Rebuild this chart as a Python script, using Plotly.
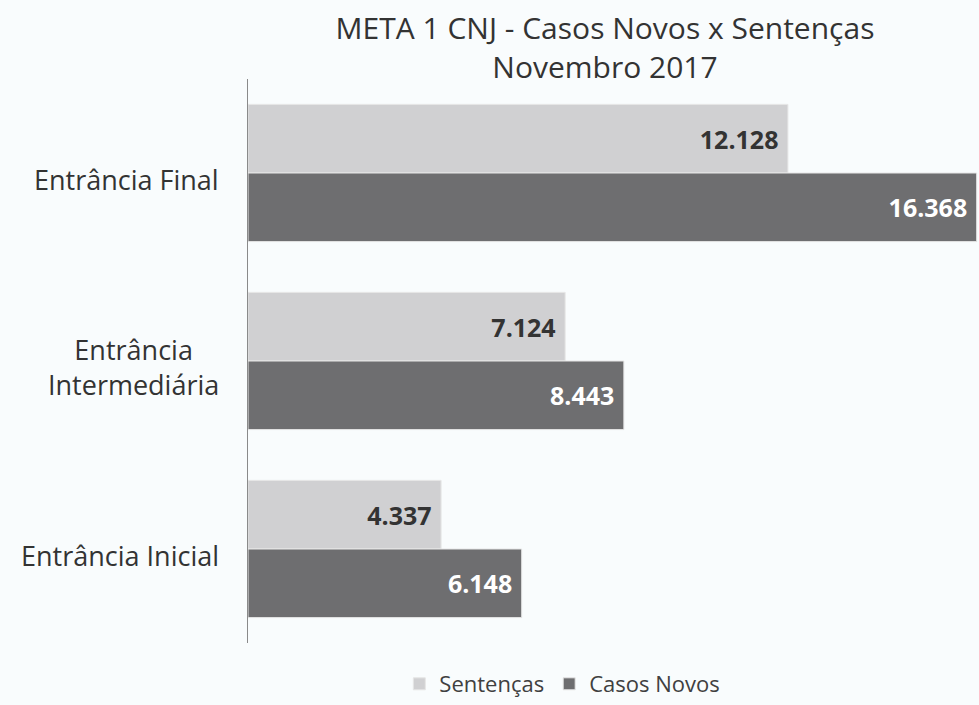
import plotly.graph_objects as go

categorias = ["Entrância Final", "Entrância<br>Intermediária", "Entrância Inicial"]
sentencas = [12128, 7124, 4337]
casos_novos = [16368, 8443, 6148]
rotulos_sent = ["12.128", "7.124", "4.337"]
rotulos_casos = ["16.368", "8.443", "6.148"]

fundo = "#f9fcfd"
pad = "\u00a0"

fig = go.Figure()
fig.add_trace(go.Bar(
    y=categorias, x=sentencas, name="Sentenças", orientation="h",
    text=[t + pad for t in rotulos_sent], textposition="inside", insidetextanchor="end",
    textfont=dict(family="Open Sans", size=25, color="#333333", weight="bold"),
    marker=dict(color="#d0d0d2", line=dict(color="#e6e6e6", width=1)),
))
fig.add_trace(go.Bar(
    y=categorias, x=casos_novos, name="Casos Novos", orientation="h",
    text=[t + pad for t in rotulos_casos], textposition="inside", insidetextanchor="end",
    textfont=dict(family="Open Sans", size=25, color="white", weight="bold"),
    marker=dict(color="#6e6e70", line=dict(color="#e6e6e6", width=1)),
))

# category labels as centred annotations (Excel style)
for c in categorias:
    fig.add_annotation(
        x=-0.037, xref="paper", y=c, yref="y", yshift=-6, text=c,
        xanchor="right", align="center", showarrow=False,
        font=dict(family="Open Sans", size=27, color="#333333"),
    )

fig.update_layout(
    width=979, height=705,
    paper_bgcolor=fundo, plot_bgcolor=fundo,
    margin=dict(l=248, r=0, t=79, b=46),
    barmode="group", bargap=0.27, bargroupgap=0,
    title=dict(
        text="META 1 CNJ - Casos Novos x Sentenças<br>Novembro 2017",
        x=0.618, xanchor="center", y=0.945, yref="container", yanchor="top",
        font=dict(family="Open Sans", size=30, color="#333333"),
    ),
    legend=dict(
        orientation="h", x=0.43, xanchor="center", y=-0.073, yanchor="middle",
        font=dict(family="Open Sans", size=22, color="#404040"),
        bgcolor="rgba(0,0,0,0)",
    ),
    uniformtext=dict(minsize=10, mode="show"),
)
fig.update_xaxes(range=[0, 16420], visible=False, showgrid=False)
fig.update_yaxes(
    autorange="reversed", showticklabels=False, showgrid=False,
    showline=True, linecolor="#8a8a8a", linewidth=1, ticks="",
)

# drop the default body margin so the figure fills the window exactly
fig.write_html(
    "out.html",
    config=dict(displayModeBar=False),
    post_script="document.body.style.margin='0';document.body.style.overflow='hidden';",
)
